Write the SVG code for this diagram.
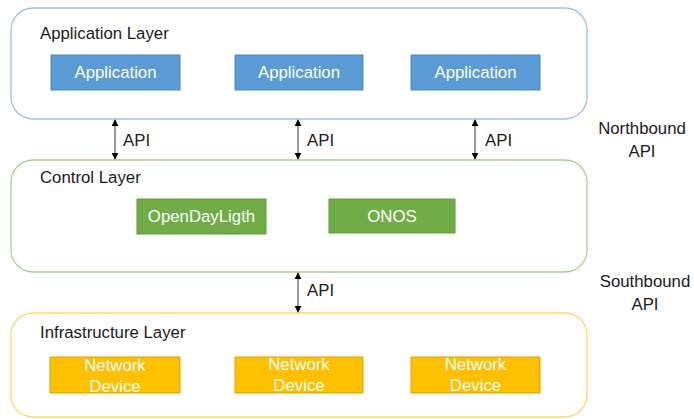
<svg xmlns="http://www.w3.org/2000/svg" width="694" height="419" viewBox="0 0 694 419">
  <style>
    text { font-family: "Liberation Sans", Arial, sans-serif; font-size: 16.8px; }
    .dark { fill: #1a1a1a; }
    .light { fill: #ffffff; text-anchor: middle; }
    .mid { text-anchor: middle; }
    .layer { fill: #ffffff; stroke-width: 1.3; }
    .app { fill: #5b9bd5; stroke: #4a86c2; stroke-width: 1; }
    .ctl { fill: #70ad47; stroke: #5f9a3a; stroke-width: 1; }
    .dev { fill: #ffc000; stroke: #d9a300; stroke-width: 1; }
    .link { stroke: #333333; stroke-width: 1; fill: none; marker-start: url(#head); marker-end: url(#head); }
  </style>
  <defs>
    <marker id="head" viewBox="0 0 10 10" refX="9" refY="5" markerWidth="7" markerHeight="7" orient="auto-start-reverse" markerUnits="userSpaceOnUse">
      <path d="M0,0 L10,5 L0,10 z" fill="#000000"/>
    </marker>
  </defs>

  <rect width="694" height="419" fill="#ffffff"/>

  <!-- Application layer -->
  <g id="application-layer">
    <rect class="layer" x="11" y="8" width="576" height="111" rx="22" ry="22" stroke="#9dc3e6"/>
    <text class="dark" x="40" y="39">Application Layer</text>
  </g>
  <g id="app-1">
    <rect class="app" x="51" y="55" width="129" height="35"/>
    <text class="light" x="115.5" y="78">Application</text>
  </g>
  <g id="app-2">
    <rect class="app" x="235" y="55" width="128" height="35"/>
    <text class="light" x="299" y="78">Application</text>
  </g>
  <g id="app-3">
    <rect class="app" x="411" y="55" width="129" height="35"/>
    <text class="light" x="475.5" y="78">Application</text>
  </g>

  <!-- Control layer -->
  <g id="control-layer">
    <rect class="layer" x="11" y="160" width="576" height="112" rx="22" ry="22" stroke="#a9d18e"/>
    <text class="dark" x="40" y="183">Control Layer</text>
  </g>
  <g id="opendaylight">
    <rect class="ctl" x="137" y="199" width="129" height="35"/>
    <text class="light" x="201.5" y="222">OpenDayLigth</text>
  </g>
  <g id="onos">
    <rect class="ctl" x="329" y="199" width="126" height="34"/>
    <text class="light" x="392" y="222">ONOS</text>
  </g>

  <!-- Infrastructure layer -->
  <g id="infrastructure-layer">
    <rect class="layer" x="11" y="313" width="576" height="104" rx="22" ry="22" stroke="#ffd966"/>
    <text class="dark" x="40" y="338">Infrastructure Layer</text>
  </g>
  <g id="device-1">
    <rect class="dev" x="50" y="357" width="130" height="36"/>
    <text class="light" x="115" y="371">Network</text>
    <text class="light" x="115" y="392">Device</text>
  </g>
  <g id="device-2">
    <rect class="dev" x="235" y="357" width="128" height="36"/>
    <text class="light" x="299" y="370">Network</text>
    <text class="light" x="299" y="391">Device</text>
  </g>
  <g id="device-3">
    <rect class="dev" x="411" y="357" width="129" height="36"/>
    <text class="light" x="475.5" y="370">Network</text>
    <text class="light" x="475.5" y="391">Device</text>
  </g>

  <!-- Side labels -->
  <g id="northbound-label">
    <text class="dark mid" x="642" y="134">Northbound</text>
    <text class="dark mid" x="642" y="157">API</text>
  </g>
  <g id="southbound-label">
    <text class="dark mid" x="645" y="287">Southbound</text>
    <text class="dark mid" x="645" y="310">API</text>
  </g>

  <!-- Connectors -->
  <g id="connectors">
    <line class="link" x1="115" y1="120" x2="115" y2="159"/>
    <line class="link" x1="298" y1="120" x2="298" y2="159"/>
    <line class="link" x1="475" y1="120" x2="475" y2="159"/>
    <line class="link" x1="298" y1="273" x2="298" y2="312"/>
    <text class="dark" x="123" y="146">API</text>
    <text class="dark" x="307" y="146">API</text>
    <text class="dark" x="485" y="146">API</text>
    <text class="dark" x="307" y="296">API</text>
  </g>
</svg>
